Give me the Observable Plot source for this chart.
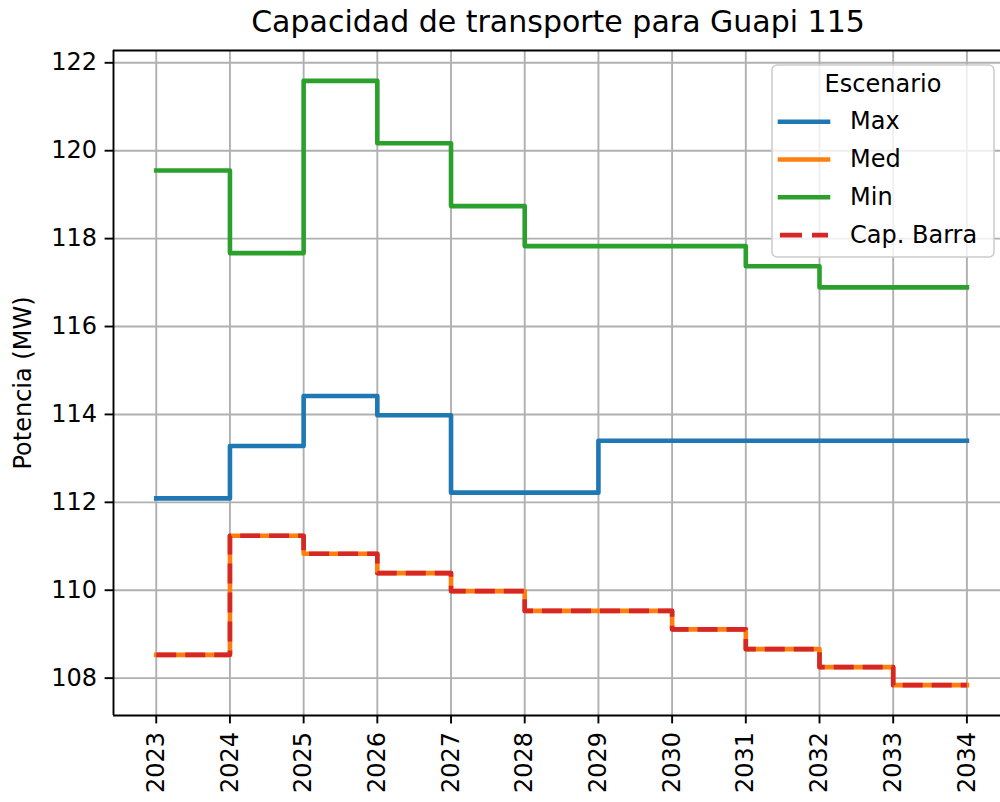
<!DOCTYPE html>
<html>
<head>
<meta charset="utf-8">
<script src="https://cdn.jsdelivr.net/npm/d3@7"></script>
<script src="https://cdn.jsdelivr.net/npm/@observablehq/plot@0.6"></script>
<style>
  html, body { margin: 0; padding: 0; background: #fff; }
  #wrap { position: relative; width: 1000px; height: 802px; overflow: hidden; font-family: "DejaVu Sans", sans-serif; color: #000; }
  #title { position: absolute; left: 113px; top: 0; width: 890px; height: 44px; line-height: 44px; text-align: center; font-size: 30px; }
  #chart { position: absolute; left: 0; top: 40px; }
  #legend { position: absolute; left: 0; top: 0; pointer-events: none; }
</style>
</head>
<body>
<div id="wrap">
  <div id="title">Capacidad de transporte para Guapi 115</div>
  <div id="chart"></div>
  <svg id="legend" width="1000" height="802"></svg>
</div>
<script>
const years = [2023, 2024, 2025, 2026, 2027, 2028, 2029, 2030, 2031, 2032, 2033, 2034];
const maxVals = [112.09, 113.28, 114.42, 113.98, 112.22, 112.22, 113.40, 113.40, 113.40, 113.40, 113.40, 113.40];
const medVals = [108.53, 111.24, 110.83, 110.39, 109.98, 109.53, 109.53, 109.11, 108.66, 108.25, 107.84, 107.84];
const minVals = [119.55, 117.67, 121.59, 120.17, 118.74, 117.83, 117.83, 117.83, 117.37, 116.89, 116.89, 116.89];
const capVals = [108.53, 111.24, 110.83, 110.39, 109.98, 109.53, 109.53, 109.11, 108.66, 108.25, 107.84, 107.84];
const yTicks = [108, 110, 112, 114, 116, 118, 120, 122];
const seriesNames = ["Max", "Med", "Min", "Cap. Barra"];
const seriesColors = ["#1f77b4", "#ff7f0e", "#2ca02c", "#d62728"];
const xDomain = [2022.42, 2034.456];
const yDomain = [107.15, 122.28];

const toRows = vals => years.map((y, i) => ({year: y, value: vals[i]}));
const allVals = [maxVals, medVals, minVals, capVals];

const lw = 4.6;
const lineMarks = allVals.map((vals, i) => Plot.line(toRows(vals), {
  x: "year", y: "value", curve: "step-after",
  stroke: seriesColors[i], strokeWidth: lw,
  strokeLinecap: i === 3 ? "butt" : "square",
  strokeLinejoin: "round",
  strokeDasharray: i === 3 ? "20,9" : null
}));

const chart = Plot.plot({
  width: 1000, height: 762,
  marginTop: 10, marginBottom: 87, marginLeft: 113, marginRight: 0,
  style: {fontFamily: "DejaVu Sans", fontSize: "24px", color: "#000", background: "transparent", overflow: "visible"},
  x: {domain: xDomain},
  y: {domain: yDomain},
  marks: [
    Plot.gridX(years, {stroke: "#b0b0b0", strokeOpacity: 1, strokeWidth: 1.9}),
    Plot.gridY(yTicks, {stroke: "#b0b0b0", strokeOpacity: 1, strokeWidth: 1.9}),
    ...lineMarks,
    Plot.ruleX([xDomain[0]], {stroke: "#000", strokeWidth: 1.9}),
    Plot.ruleY([yDomain[0], yDomain[1]], {stroke: "#000", strokeWidth: 1.9}),
    Plot.axisX(years, {tickSize: 8.4, tickPadding: 8, tickRotate: -90, tickFormat: d => String(d), label: null, fontSize: 24, strokeWidth: 1.9}),
    Plot.axisY(yTicks, {tickSize: 8.4, tickPadding: 8, tickFormat: d => String(d), label: "Potencia (MW)", labelAnchor: "center", labelArrow: "none", labelOffset: 100, fontSize: 24, strokeWidth: 1.9})
  ]
});
document.getElementById("chart").appendChild(chart);

// Legend
const svgNS = "http://www.w3.org/2000/svg";
const lg = document.getElementById("legend");
function el(tag, attrs, text) {
  const e = document.createElementNS(svgNS, tag);
  for (const k in attrs) e.setAttribute(k, attrs[k]);
  if (text != null) e.textContent = text;
  lg.appendChild(e);
  return e;
}
el("rect", {x: 772, y: 65, width: 222, height: 192, rx: 5, fill: "#fff", "fill-opacity": 0.8, stroke: "#cccccc", "stroke-width": 1.5});
el("text", {x: 883, y: 92, "text-anchor": "middle", "font-family": "DejaVu Sans", "font-size": 24, fill: "#000"}, "Escenario");
const entryY = [121.7, 159.5, 197.3, 235.1];
seriesNames.forEach((name, i) => {
  const yy = entryY[i];
  el("line", {x1: 780, x2: 828, y1: yy, y2: yy, stroke: seriesColors[i], "stroke-width": lw,
    "stroke-linecap": i === 3 ? "butt" : "square", "stroke-dasharray": i === 3 ? "22,10" : "none"});
  el("text", {x: 850, y: yy + 7.5, "font-family": "DejaVu Sans", "font-size": 24, fill: "#000"}, name);
});
</script>
</body>
</html>
